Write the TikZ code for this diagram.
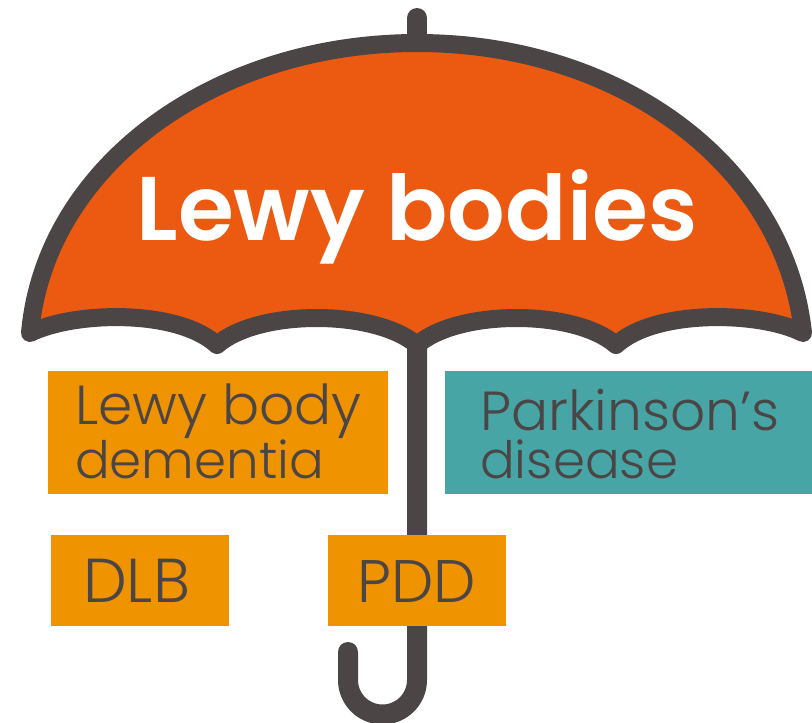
\documentclass[tikz,border=0pt]{standalone}
\usepackage{fontspec}
\setmainfont{Poppins}
\newfontfamily\lightf{Poppins Light}
\newfontfamily\semif{Poppins SemiBold}
\definecolor{dk}{HTML}{4B4546}
\definecolor{org}{HTML}{EB5A10}
\definecolor{amb}{HTML}{F09300}
\definecolor{teal}{HTML}{48A5A6}
\newcommand{\smline}{\fontsize{51.5}{48}\selectfont}
\tikzset{x=1pt,y=-1pt,
 lab/.style={text=dk,font=\lightf\fontsize{55}{48}\selectfont,align=left,anchor=base west,inner sep=0pt},
 lab2/.style={lab,font=\lightf\fontsize{60}{48}\selectfont},
 lab3/.style={lab,font=\lightf\fontsize{62}{48}\selectfont},
 boxa/.style={fill=amb,draw=none,anchor=north west,inner sep=0pt}}
\begin{document}
\begin{tikzpicture}[line cap=round,line join=round]
\useasboundingbox (0,0) rectangle (812,723);
\draw[dk,line width=20pt] (417,18) -- (417,40);
\draw[dk,line width=20pt] (417,340) -- (417,680) arc[start angle=0,end angle=180,x radius=34.5pt,y radius=-34.5pt] -- (348,652);
\draw[dk,line width=18pt,fill=org] (30,333)
 .. controls (45,165) and (215,43) .. (417,43)
 .. controls (620,43) and (785,165) .. (803,333)
 .. controls (760,311) and (655,309) .. (616,345)
 .. controls (575,309) and (458,309) .. (417,345)
 .. controls (375,309) and (258,309) .. (217,345)
 .. controls (178,309) and (75,311) .. (30,333) -- cycle;
\node[text=white,font=\semif\fontsize{90.5}{94}\selectfont,anchor=base,inner sep=0pt] (title) at (417,240) {Lewy bodies};
\node[boxa,minimum width=340pt,minimum height=123pt] (lbd) at (48,371) {};
\node[boxa,fill=teal,minimum width=367pt,minimum height=123pt] (pd) at (445,371) {};
\node[boxa,minimum width=178pt,minimum height=91pt] (dlb) at (51,535) {};
\node[boxa,minimum width=178pt,minimum height=91pt] (pdd) at (328,535) {};
\node[lab] (t1) at (75,478) {Lewy body\\{\smline dementia}};
\node[lab] (t2) at (480,478) {Parkinson’s\\{\smline disease}};
\node[lab3] (t3) at (83,602) {DLB};
\node[lab2] (t4) at (357,602) {PDD};
\end{tikzpicture}
\end{document}
